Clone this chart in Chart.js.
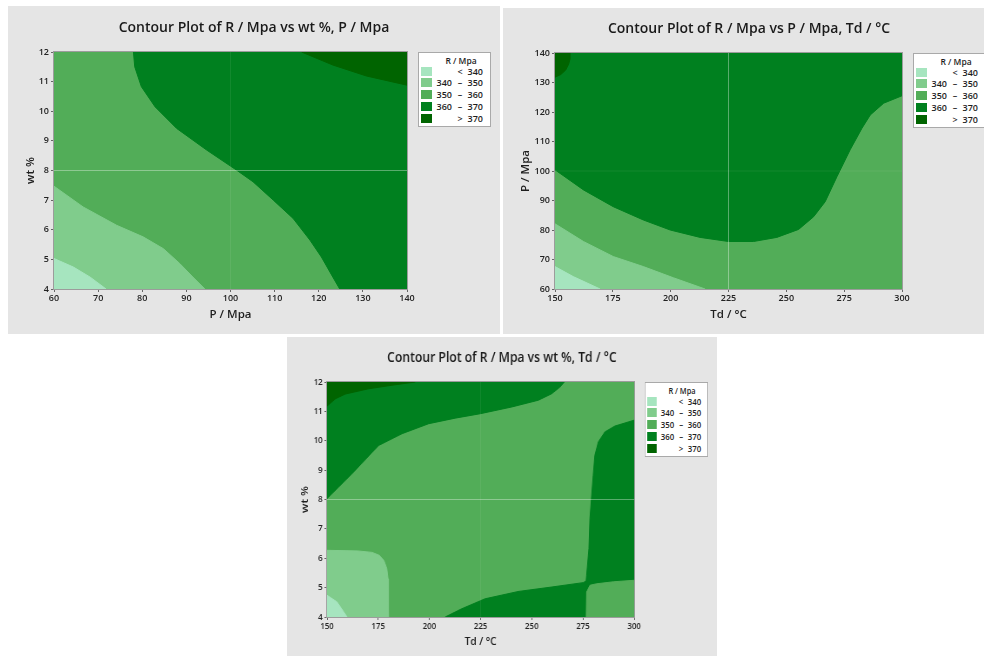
<!DOCTYPE html>
<html>
<head>
<meta charset="utf-8">
<title>Contour plots of R / Mpa</title>
<script src="https://cdn.jsdelivr.net/npm/chart.js@4.4.1/dist/chart.umd.min.js"></script>
<style>
  html, body { margin: 0; padding: 0; background: #fff; }
  body { width: 984px; height: 656px; position: relative; overflow: hidden; font-family: "Open Sans", "Noto Sans", sans-serif; }
  .panel { position: absolute; background: #e5e5e5; overflow: hidden; }
  .inner { position: absolute; left: 0; top: 0; transform-origin: 0 0; }
  .inner canvas { position: absolute; left: 0; top: 0; }
  .legend { position: absolute; box-sizing: border-box; width: 73px; height: 75px; background: #fff; border: 1px solid #a9a9a9; color: #1e1e1e; font-size: 9px; font-weight: 600; }
  .legend .lg-title { position: absolute; left: 13px; right: 0; top: 1.5px; text-align: center; font-size: 8.5px; line-height: 11px; }
  .legend .row { position: absolute; left: 0; right: 0; height: 11px; line-height: 11px; }
  .legend .sw { position: absolute; left: 2px; top: 1px; width: 11px; height: 9px; }
  .legend .lo { position: absolute; left: 15px; width: 18px; text-align: right; }
  .legend .sym { position: absolute; left: 36px; width: 10px; text-align: center; }
  .legend .hi { position: absolute; left: 46px; width: 18px; text-align: right; }
</style>
</head>
<body>
<script>
// niveles de R / Mpa
const legendTitle = 'R / Mpa';
const levelLow = [null, 340, 350, 360, 370];
const levelHigh = [340, 350, 360, 370, null];
const levelColors = ['#a6e5bf', '#80cc8c', '#52ad58', '#00801f', '#006400'];

// ejes
const pTicks = [60, 70, 80, 90, 100, 110, 120, 130, 140];
const wtTicks = [4, 5, 6, 7, 8, 9, 10, 11, 12];
const tdTicks = [150, 175, 200, 225, 250, 275, 300];

// grafico 1: wt % vs P / Mpa  (puntos [P, wt] de cada borde)
const c1Base = [[60, 4], [140, 4]];
const c1Lt350 = [[60, 7.47], [66.6, 6.77], [74.2, 6.15], [80.2, 5.76], [84.8, 5.36], [88.5, 4.86], [91.5, 4.4], [94.2, 4]];
const c1Lt340 = [[60, 5.03], [64.4, 4.74], [68.2, 4.4], [71.8, 4]];
const c1Gt360 = [[78, 12], [78.3, 11.5], [79.8, 10.83], [82.9, 10.15], [87.8, 9.42], [94.6, 8.69], [101.4, 8.01], [105.1, 7.62], [109.7, 7.0], [114.2, 6.38], [118, 5.65], [120.6, 5.08], [123.2, 4.4], [124.75, 4], [140, 4]];
const c1Gt370 = [[116.1, 12], [123.2, 11.56], [130.8, 11.19], [140, 10.88]];
const c1RefH = [[60, 8], [140, 8]];
const c1RefV = [[100, 4], [100, 12]];

// grafico 2: P / Mpa vs Td / °C  (puntos [Td, P])
const c2Base = [[150, 60], [300, 60]];
const c2Lt350 = [[150, 82.1], [162.3, 76.1], [175.2, 71], [188.2, 67.6], [201.2, 63.8], [214.9, 60]];
const c2Lt340 = [[150, 67.6], [157.9, 64.2], [169.5, 60]];
const c2Gt360 = [[150, 100.4], [162.3, 93.6], [175.2, 87.9], [188.2, 83.4], [199.8, 80.0], [212.7, 77.5], [225, 76.1], [235.8, 76.1], [245.9, 77.5], [255.3, 80.2], [261.8, 84.5], [266.8, 89.6], [271.9, 98.1], [277.6, 107.2], [282.7, 114.5], [286.3, 119], [292.1, 123], [300, 125.5]];
const c2Gt370 = [[150, 131.8], [152.5, 132.7], [154.6, 134.2], [155.9, 136.2], [156.5, 138], [156.5, 140]];
const c2RefV = [[225, 60], [225, 140]];
const c2RefH = [[150, 100], [300, 100]];

// grafico 3: wt % vs Td / °C  (puntos [Td, wt])
const c3Base = [[150, 4], [300, 4]];
const c3Lt350 = [[150, 6.27], [165, 6.25], [172, 6.2], [175.5, 6.1], [177.8, 5.92], [179.2, 5.65], [179.8, 5.3], [180, 4.8], [180, 4]];
const c3Lt340 = [[150, 4.74], [154.9, 4.51], [159.8, 4]];
const c3BottomGt360 = [[207.7, 4], [215.8, 4.28], [227.2, 4.62], [243.5, 4.87], [259.7, 5.02], [275.1, 5.17], [276.5, 5.22], [276.6, 4]];
const c3RightGt360 = [[276.2, 4], [276.5, 5.2], [276.8, 5.42], [277.9, 6.33], [278.4, 7.35], [280.0, 8.82], [280.8, 9.5], [282.5, 9.96], [285.7, 10.3], [290.6, 10.5], [300, 10.7]];
const c3RightLt360 = [[276.6, 4], [276.8, 4.85], [278.4, 5.08], [281.6, 5.13], [290, 5.2], [300, 5.25]];
const c3TopGt360 = [[150, 8.03], [162.2, 8.88], [175.2, 9.84], [186.6, 10.24], [199.6, 10.58], [212.6, 10.77], [224.8, 10.92], [240.2, 11.15], [253.2, 11.38], [259.7, 11.6], [263.8, 11.83], [265.9, 12]];
const c3TopGt370 = [[150, 11.18], [154.1, 11.43], [158.9, 11.59], [170.3, 11.77], [181.7, 11.89], [193.1, 12]];
const c3RefH = [[150, 8], [300, 8]];
const c3RefV = [[225, 4], [225, 12]];

Chart.defaults.font.family = "'Open Sans', 'Noto Sans', sans-serif";
Chart.defaults.color = '#222';

// graficos (regiones de abajo hacia arriba)
const charts = [
  {
    title: 'Contour Plot of R / Mpa vs wt %, P / Mpa', xTitle: 'P / Mpa', yTitle: 'wt %',
    xTicks: pTicks, yTicks: wtTicks,
    regions: [[c1Base, 2, 'end'], [c1Lt350, 1, 'start'], [c1Lt340, 0, 'start'], [c1Gt360, 3, 'end'], [c1Gt370, 4, 'end']],
    refs: [[c1RefH, 0.35], [c1RefV, 0.07]],
    box: { left: 8, top: 6, width: 492, height: 328, sx: 1, padLeft: 0, yWidth: 46, rightWidth: 93, xHeight: 45, titleTop: 13.6, titleBottom: 15.6, yTitlePad: 15.4, xTitlePad: 12.4, legendLeft: 410, legendTop: 46 }
  },
  {
    title: 'Contour Plot of R / Mpa vs P / Mpa, Td / °C', xTitle: 'Td / °C', yTitle: 'P / Mpa',
    xTicks: tdTicks, yTicks: pTicks,
    regions: [[c2Base, 2, 'end'], [c2Lt350, 1, 'start'], [c2Lt340, 0, 'start'], [c2Gt360, 3, 'end'], [c2Gt370, 4, 'end']],
    refs: [[c2RefV, 0.35], [c2RefH, 0.07]],
    box: { left: 503, top: 8, width: 481, height: 326, sx: 1, padLeft: 11, yWidth: 41, rightWidth: 82, xHeight: 45, titleTop: 12.6, titleBottom: 15.6, yTitlePad: 4.4, xTitlePad: 12.4, legendLeft: 410, legendTop: 45 }
  },
  {
    title: 'Contour Plot of R / Mpa vs wt %, Td / °C', xTitle: 'Td / °C', yTitle: 'wt %',
    xTicks: tdTicks, yTicks: wtTicks,
    regions: [[c3Base, 2, 'end'], [c3Lt350, 1, 'start'], [c3Lt340, 0, 'start'], [c3BottomGt360, 3, 'start'], [c3RightGt360, 3, 'start'], [c3RightLt360, 2, 'start'], [c3TopGt360, 3, 'end'], [c3TopGt370, 4, 'end']],
    refs: [[c3RefH, 0.35], [c3RefV, 0.07]],
    box: { left: 287, top: 337, width: 494, height: 319, sx: 0.87, padLeft: 0, yWidth: 46, rightWidth: 95, xHeight: 39, titleTop: 12.6, titleBottom: 15.6, yTitlePad: 14.1, xTitlePad: 7.4, legendLeft: 411, legendTop: 45 }
  }
];

// marco gris alrededor del area del grafico
const framePlugin = {
  id: 'frame',
  afterDatasetsDraw(chart) {
    const { ctx, chartArea: a } = chart;
    ctx.save();
    ctx.strokeStyle = '#9c9c9c';
    ctx.lineWidth = 1;
    ctx.strokeRect(Math.round(a.left) - 0.5, Math.round(a.top) - 0.5, Math.round(a.right - a.left) + 1, Math.round(a.bottom - a.top) + 1);
    ctx.restore();
  }
};

function toXY(pts) {
  return pts.map(([x, y]) => ({ x, y }));
}

function buildLegend(parent, left, top) {
  const box = document.createElement('div');
  box.className = 'legend';
  box.style.left = left + 'px';
  box.style.top = top + 'px';
  const t = document.createElement('div');
  t.className = 'lg-title';
  t.textContent = legendTitle;
  box.appendChild(t);
  levelColors.forEach((color, i) => {
    const row = document.createElement('div');
    row.className = 'row';
    row.style.top = (12.5 + i * 11.75) + 'px';
    let lo = levelLow[i], sym = '–', hi = levelHigh[i];
    if (lo === null) { lo = ''; sym = '<'; }
    if (hi === null) { hi = levelLow[i]; lo = ''; sym = '>'; }
    row.innerHTML = '<span class="sw" style="background:' + color + '"></span>' +
      '<span class="lo">' + lo + '</span><span class="sym">' + sym + '</span><span class="hi">' + hi + '</span>';
    box.appendChild(row);
  });
  parent.appendChild(box);
}

function makeChart(def) {
  const b = def.box;
  const panel = document.createElement('div');
  panel.className = 'panel';
  panel.style.left = b.left + 'px';
  panel.style.top = b.top + 'px';
  panel.style.width = Math.round(b.width * b.sx) + 'px';
  panel.style.height = b.height + 'px';
  const inner = document.createElement('div');
  inner.className = 'inner';
  inner.style.width = b.width + 'px';
  inner.style.height = b.height + 'px';
  inner.style.transform = 'scaleX(' + b.sx + ')';
  const canvas = document.createElement('canvas');
  canvas.width = b.width;
  canvas.height = b.height;
  inner.appendChild(canvas);
  panel.appendChild(inner);
  document.body.appendChild(panel);
  buildLegend(inner, b.legendLeft, b.legendTop);

  const datasets = [];
  def.regions.forEach(([pts, level, fill]) => {
    datasets.push({
      data: toXY(pts), fill: fill,
      backgroundColor: levelColors[level], borderColor: levelColors[level],
      borderWidth: 1, pointRadius: 0, tension: 0
    });
  });
  def.refs.forEach(([pts, alpha]) => {
    datasets.push({
      data: toXY(pts), fill: false,
      borderColor: 'rgba(255,255,255,' + alpha + ')', borderWidth: 1, pointRadius: 0
    });
  });
  // primero en la lista = dibujado primero
  datasets.forEach((d, i) => { d.order = datasets.length - i; });

  const xt = def.xTicks, yt = def.yTicks;
  const tickFont = { size: 9, weight: '600' };
  const titleFont = { size: 11.5, weight: '600' };

  new Chart(canvas, {
    type: 'line',
    data: { datasets },
    options: {
      responsive: false,
      animation: false,
      events: [],
      layout: { padding: { left: b.padLeft, right: 0, top: 0, bottom: 0 } },
      plugins: {
        legend: { display: false },
        tooltip: { enabled: false },
        title: {
          display: true, text: def.title, color: '#1a1a1a',
          font: { size: 14, weight: '600' },
          padding: { top: b.titleTop, bottom: b.titleBottom }
        }
      },
      scales: {
        x: {
          type: 'linear', min: xt[0], max: xt[xt.length - 1],
          afterBuildTicks: s => { s.ticks = xt.map(v => ({ value: v })); },
          afterFit: s => { s.height = b.xHeight; },
          ticks: { autoSkip: false, maxRotation: 0, padding: 1, color: '#222', font: tickFont },
          grid: { display: true, drawOnChartArea: false, drawTicks: true, tickLength: 3, color: '#666' },
          border: { display: false },
          title: { display: true, text: def.xTitle, color: '#1e1e1e', font: titleFont, padding: { top: 0, bottom: b.xTitlePad } }
        },
        y: {
          type: 'linear', position: 'left', min: yt[0], max: yt[yt.length - 1],
          afterBuildTicks: s => { s.ticks = yt.map(v => ({ value: v })); },
          afterFit: s => { s.width = b.yWidth; },
          ticks: { autoSkip: false, padding: 2, color: '#222', font: tickFont },
          grid: { display: true, drawOnChartArea: false, drawTicks: true, tickLength: 3, color: '#666' },
          border: { display: false },
          title: { display: true, text: def.yTitle, color: '#1e1e1e', font: titleFont, padding: { top: b.yTitlePad, bottom: 0 } }
        },
        y2: {
          type: 'linear', position: 'right', display: true, min: 0, max: 1,
          ticks: { display: false }, grid: { display: false }, border: { display: false },
          afterFit: s => { s.width = b.rightWidth; }
        }
      }
    },
    plugins: [framePlugin]
  });
}

charts.forEach(makeChart);
</script>
</body>
</html>
